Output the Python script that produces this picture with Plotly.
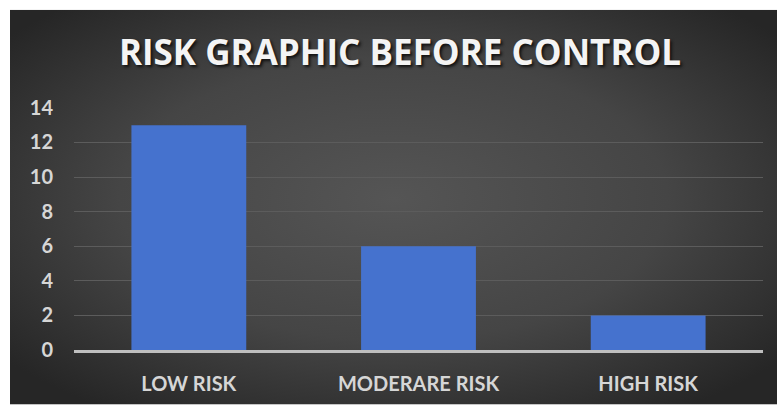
import base64
import plotly.graph_objects as go

categories = ["LOW RISK", "MODERARE RISK", "HIGH RISK"]
values = [13, 6, 2]
y_ticks = [0, 2, 4, 6, 8, 10, 12, 14]
title_text = "RISK GRAPHIC BEFORE CONTROL"

W, H = 780, 407
L, R, T, B = 74, 17, 107, 55
pw, ph = W - L - R, H - T - B

svg = (
    '<svg xmlns="http://www.w3.org/2000/svg" width="767" height="398" '
    'viewBox="0 0 100 100" preserveAspectRatio="none">'
    '<defs><radialGradient id="g" cx="50%" cy="48%" r="65%">'
    '<stop offset="0%" stop-color="#555555"/>'
    '<stop offset="55%" stop-color="#454545"/>'
    '<stop offset="100%" stop-color="#262626"/>'
    '</radialGradient></defs>'
    '<rect x="0" y="0" width="100" height="100" fill="url(#g)"/></svg>'
)
src = "data:image/svg+xml;base64," + base64.b64encode(svg.encode()).decode()

x0, x1, y0, y1 = 10, 777, 9, 407

fig = go.Figure(
    go.Bar(
        x=categories,
        y=values,
        marker=dict(color="#4572ce", line=dict(width=0)),
        hoverinfo="skip",
    )
)

tick_font = dict(family="Lato", size=20, color="#d6d6d6", weight="bold")

fig.update_layout(
    width=W,
    height=H,
    margin=dict(l=L, r=R, t=T, b=B, pad=0),
    paper_bgcolor="white",
    plot_bgcolor="rgba(0,0,0,0)",
    bargap=0.5,
    showlegend=False,
    title=dict(
        text=title_text,
        x=400 / W,
        xref="container",
        xanchor="center",
        y=1 - 53 / H,
        yref="container",
        yanchor="middle",
        font=dict(family="Open Sans", size=35, color="#f4f4f4",
                  weight="bold", shadow="2px 2px 3px #111111"),
    ),
    images=[dict(
        source=src,
        xref="paper", yref="paper",
        x=(x0 - L) / pw, y=(H - B - y0) / ph,
        sizex=(x1 - x0) / pw, sizey=(y1 - y0) / ph,
        sizing="stretch", xanchor="left", yanchor="top",
        layer="below",
    )],
    xaxis=dict(
        showgrid=False,
        showline=True,
        linecolor="#bfbfbf",
        linewidth=3,
        ticks="",
        tickfont=tick_font,
        ticklabelstandoff=14,
        fixedrange=True,
    ),
    yaxis=dict(
        range=[0, 14.05],
        tickvals=y_ticks,
        showgrid=True,
        gridcolor="#5c5c5c",
        gridwidth=1,
        zeroline=False,
        showline=False,
        ticks="",
        tickfont=tick_font,
        ticklabelstandoff=20,
        fixedrange=True,
    ),
)

fig.write_html("out.html")
